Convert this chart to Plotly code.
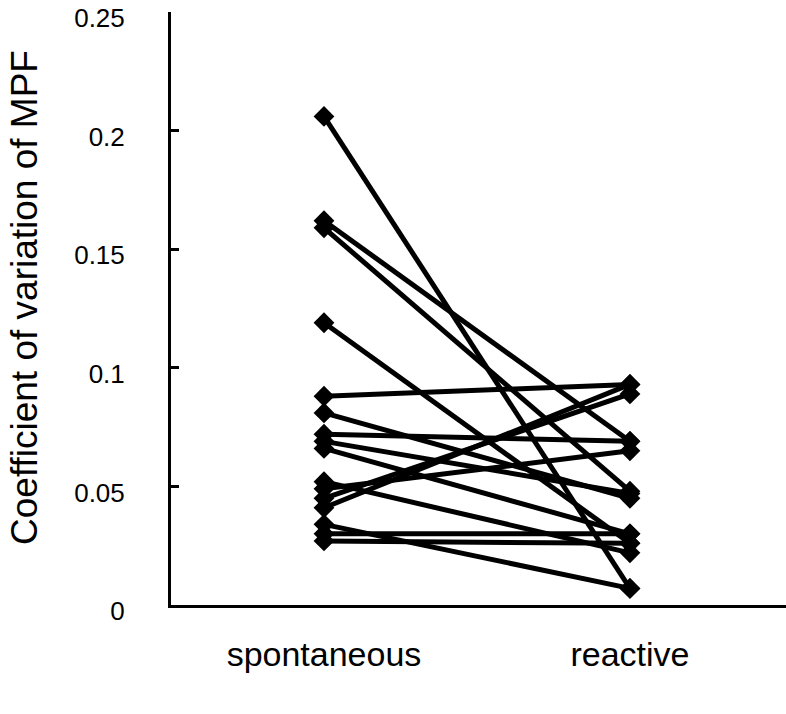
import plotly.graph_objects as go

categories = ["spontaneous", "reactive"]
spontaneous = [0.206, 0.162, 0.159, 0.119, 0.088, 0.081, 0.072, 0.066,
               0.052, 0.049, 0.045, 0.041, 0.034, 0.030, 0.027, 0.069]
reactive = [0.007, 0.069, 0.048, 0.026, 0.093, 0.045, 0.069, 0.030,
            0.022, 0.065, 0.089, 0.093, 0.007, 0.030, 0.026, 0.047]
y_ticks = [0, 0.05, 0.1, 0.15, 0.2, 0.25]
y_tick_text = ["0", "0.05", "0.1", "0.15", "0.2", "0.25"]
y_title = "Coefficient of variation of MPF"

FONT = "Liberation Sans, Arial, Helvetica, sans-serif"

fig = go.Figure()
for s, r in zip(spontaneous, reactive):
    fig.add_trace(go.Scatter(
        x=categories, y=[s, r], mode="lines+markers",
        line=dict(color="black", width=5),
        marker=dict(symbol="diamond", size=16, color="black"),
        showlegend=False, hoverinfo="skip", cliponaxis=False,
    ))

L, T, B, W, H = 171, 12, 109, 786, 714
fig.update_layout(
    width=W, height=H,
    margin=dict(l=L, r=0, t=T, b=B),
    paper_bgcolor="white", plot_bgcolor="white",
    font=dict(family=FONT, color="black"),
    showlegend=False,
)
fig.update_xaxes(
    type="category", categoryorder="array", categoryarray=categories,
    range=[-0.5, 1.51], showgrid=False, zeroline=False, automargin=False,
    showline=True, linecolor="black", linewidth=3,
    ticks="", tickfont=dict(size=34, family=FONT, color="black"),
    ticklabelstandoff=17,
)
fig.update_yaxes(
    range=[0, 0.25001], tickvals=y_ticks, ticktext=y_tick_text,
    showgrid=False, zeroline=False, automargin=False,
    showline=True, linecolor="black", linewidth=3,
    ticks="inside", ticklen=8, tickwidth=2.5, tickcolor="black",
    tickfont=dict(size=26, family=FONT, color="black"),
    ticklabelstandoff=38, ticklabeloverflow="allow", ticklabelshift=6,
)
plot_w = W - L
plot_h = H - T - B
fig.add_annotation(
    text=y_title, textangle=-90, showarrow=False,
    xref="paper", yref="paper",
    x=(24 - L) / plot_w, y=(H - B - 298) / plot_h,
    xanchor="center", yanchor="middle",
    font=dict(size=37, family=FONT, color="black"),
)

fig.write_html("out.html", config={"displayModeBar": False},
               post_script="document.body.style.margin='0';")
